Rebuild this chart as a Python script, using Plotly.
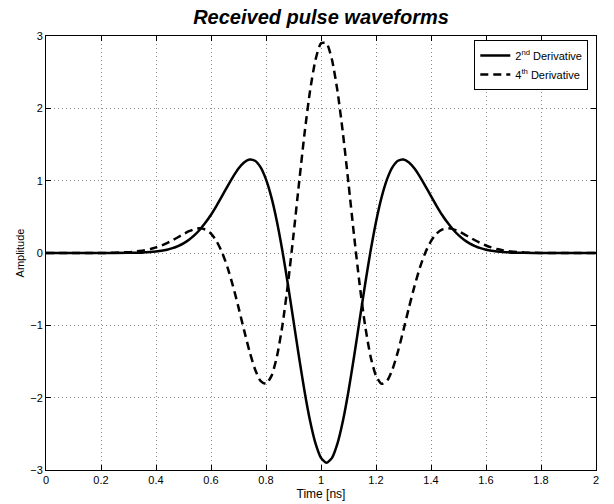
import plotly.graph_objects as go

# Time axis [ns]
time_core = [round(0.30 + 0.02 * i, 2) for i in range(73)]
time_ns = [0.0, 0.1, 0.2] + time_core + [1.8, 1.9, 2.0]

# 2nd derivative received pulse
second_core = [
    0.002, 0.003, 0.005, 0.009, 0.013, 0.021, 0.031, 0.046, 0.067, 0.096,
    0.134, 0.184, 0.247, 0.325, 0.420, 0.529, 0.653, 0.786, 0.922, 1.053,
    1.168, 1.252, 1.293, 1.275, 1.187, 1.018, 0.766, 0.430, 0.022, -0.442,
    -0.939, -1.438, -1.908, -2.316, -2.632, -2.832, -2.900, -2.832, -2.632, -2.316,
    -1.908, -1.438, -0.939, -0.442, 0.022, 0.430, 0.766, 1.018, 1.187, 1.275,
    1.293, 1.252, 1.168, 1.053, 0.922, 0.786, 0.653, 0.529, 0.420, 0.325,
    0.247, 0.184, 0.134, 0.096, 0.067, 0.046, 0.031, 0.021, 0.013, 0.009,
    0.005, 0.003, 0.002,
]
second_deriv = [0.0, 0.0, 0.0] + second_core + [0.0, 0.0, 0.0]

# 4th derivative received pulse
fourth_core = [
    0.012, 0.018, 0.027, 0.039, 0.055, 0.077, 0.104, 0.137, 0.176, 0.218,
    0.262, 0.301, 0.330, 0.341, 0.323, 0.268, 0.165, 0.011, -0.198, -0.457,
    -0.752, -1.063, -1.359, -1.607, -1.768, -1.808, -1.699, -1.427, -0.993, -0.420,
    0.250, 0.962, 1.648, 2.238, 2.671, 2.901,
    2.901, 2.671, 2.238, 1.648, 0.962, 0.250, -0.420, -0.993, -1.427, -1.699,
    -1.808, -1.768, -1.607, -1.359, -1.063, -0.752, -0.457, -0.198, 0.011, 0.165,
    0.268, 0.323, 0.341, 0.330, 0.301, 0.262, 0.218, 0.176, 0.137, 0.104,
    0.077, 0.055, 0.039, 0.027, 0.018, 0.012, 0.007,
]
fourth_deriv = [0.0, 0.0, 0.0] + fourth_core + [0.0, 0.0, 0.0]

x_ticks = [0, 0.2, 0.4, 0.6, 0.8, 1, 1.2, 1.4, 1.6, 1.8, 2]
y_ticks = [-3, -2, -1, 0, 1, 2, 3]

FONT = "Liberation Sans, Arial, Helvetica, sans-serif"

fig = go.Figure()
fig.add_trace(go.Scatter(
    x=time_ns, y=second_deriv, mode="lines",
    name="2<sup>nd</sup> Derivative",
    line=dict(color="black", width=2.5, shape="spline", smoothing=0.6),
))
fig.add_trace(go.Scatter(
    x=time_ns, y=fourth_deriv, mode="lines",
    name="4<sup>th</sup> Derivative",
    line=dict(color="black", width=2.5, dash="8px,5px", shape="spline", smoothing=0.6),
))

axis_common = dict(
    showline=True, linecolor="black", linewidth=1, mirror="ticks",
    ticks="inside", ticklen=5, tickcolor="black", tickwidth=1,
    showgrid=True, gridcolor="#8c8c8c", gridwidth=1, griddash="1px,3px",
    zeroline=False, automargin=False,
    tickfont=dict(family=FONT, size=11, color="black"),
)

fig.update_layout(
    width=614, height=504,
    margin=dict(l=46, r=18, t=36, b=34),
    paper_bgcolor="white", plot_bgcolor="white",
    title=dict(
        text="<b><i>Received pulse waveforms</i></b>",
        font=dict(family=FONT, size=20, color="black"),
        x=0.5, xref="paper", y=1 - 17 / 504, yref="container",
        xanchor="center", yanchor="middle",
    ),
    xaxis=dict(
        range=[0, 2], tickvals=x_ticks, ticktext=[str(v) for v in x_ticks],
        title=dict(text="Time [ns]", font=dict(family=FONT, size=12, color="black"), standoff=4),
        **axis_common,
    ),
    yaxis=dict(
        range=[-3, 3], tickvals=y_ticks,
        title=dict(text="Amplitude", font=dict(family=FONT, size=11, color="black"), standoff=3),
        **axis_common,
    ),
    legend=dict(
        x=0.986, y=0.991, xanchor="right", yanchor="top",
        bgcolor="white", bordercolor="black", borderwidth=1,
        font=dict(family=FONT, size=11, color="black"),
        tracegroupgap=0, itemwidth=30,
    ),
    showlegend=True,
)

fig.write_html("out.html")
